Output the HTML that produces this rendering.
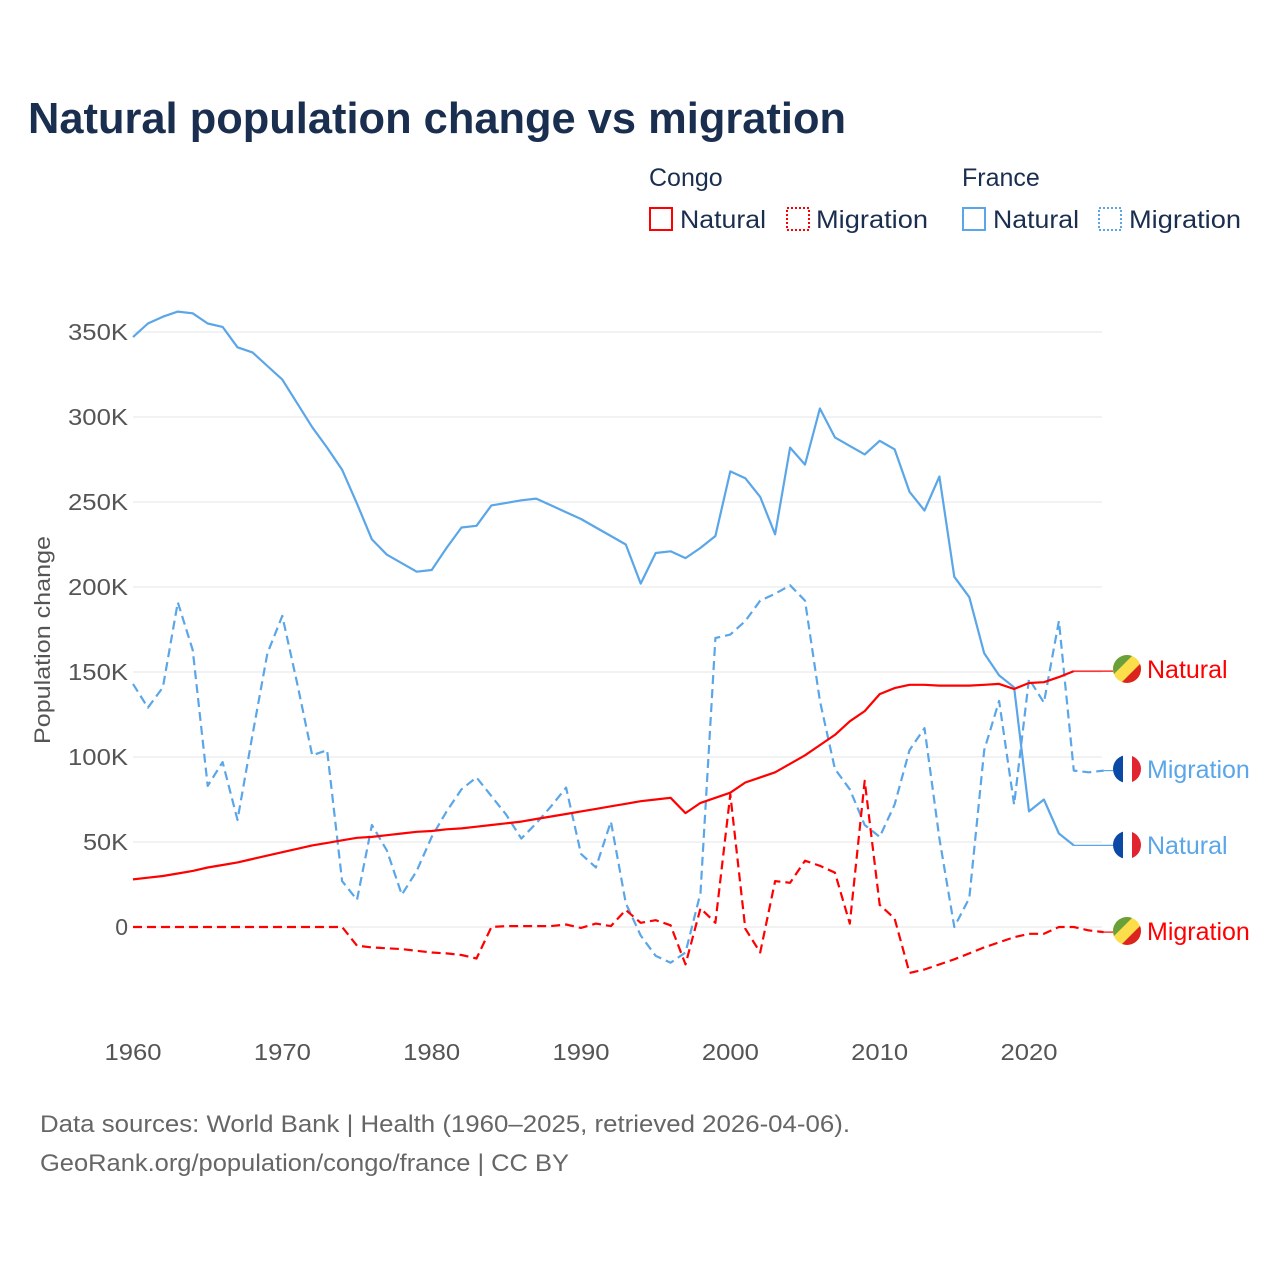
<!DOCTYPE html>
<html><head><meta charset="utf-8"><style>
body{margin:0;background:#fff;width:1280px;height:1280px;overflow:hidden;font-family:"Liberation Sans",sans-serif}
</style></head><body>
<svg id="chart" width="1280" height="1280" viewBox="0 0 1280 1280" xmlns="http://www.w3.org/2000/svg" font-family="Liberation Sans, sans-serif">
<text x="28" y="133" font-size="44" font-weight="bold" fill="#1a2e4f" textLength="818" lengthAdjust="spacingAndGlyphs">Natural population change vs migration</text>
<g font-size="25" fill="#1a2e4f">
<text x="649" y="186">Congo</text>
<text x="962" y="186">France</text>
<g><rect x="650" y="208" width="22" height="22" fill="none" stroke="#ff0000" stroke-width="2"/><text x="680" y="228" textLength="86" lengthAdjust="spacingAndGlyphs">Natural</text></g>
<g><rect x="787" y="208" width="22" height="22" fill="none" stroke="#ff0000" stroke-width="2" stroke-dasharray="2,2"/><text x="816" y="228" textLength="112" lengthAdjust="spacingAndGlyphs">Migration</text></g>
<g><rect x="963" y="208" width="22" height="22" fill="none" stroke="#5aa6e8" stroke-width="2"/><text x="993" y="228" textLength="86" lengthAdjust="spacingAndGlyphs">Natural</text></g>
<g><rect x="1099" y="208" width="22" height="22" fill="none" stroke="#5aa6e8" stroke-width="2" stroke-dasharray="2,2"/><text x="1129" y="228" textLength="112" lengthAdjust="spacingAndGlyphs">Migration</text></g>
</g>
<g id="grid"></g>
<g id="yticks" font-size="23" fill="#555" text-anchor="end"></g>
<g id="xticks" font-size="23" fill="#555" text-anchor="middle"></g>
<text transform="translate(50,640) rotate(-90)" font-size="22" fill="#555" text-anchor="middle" textLength="208" lengthAdjust="spacingAndGlyphs">Population change</text>
<g id="series"></g>
<g id="labels" font-size="25"></g>
<defs>
<clipPath id="c1"><circle cx="1127" cy="669" r="14"/></clipPath>
<clipPath id="c2"><circle cx="1127" cy="769" r="14"/></clipPath>
<clipPath id="c3"><circle cx="1127" cy="845" r="14"/></clipPath>
<clipPath id="c4"><circle cx="1127" cy="931" r="14"/></clipPath>
</defs>
<text x="40" y="1132" font-size="24" fill="#666" textLength="810" lengthAdjust="spacingAndGlyphs">Data sources: World Bank | Health (1960–2025, retrieved 2026-04-06).</text>
<text x="40" y="1171" font-size="24" fill="#666" textLength="529" lengthAdjust="spacingAndGlyphs">GeoRank.org/population/congo/france | CC BY</text>
</svg>
<script>
const yTicks=[0,50,100,150,200,250,300,350];
const yTickLabels=["0","50K","100K","150K","200K","250K","300K","350K"];
const xTicks=[1960,1970,1980,1990,2000,2010,2020];
const startYear=1960;
const franceNatural=[347,355,359,362,361,355,353,341,338,330,322,308,294,282,269,249,228,219,214,209,210,223,235,236,248,249.5,251,252,248,244,240,235,230,225,202,220,221,217,223,230,268,264,253,231,282,272,305,288,283,278,286,281,256,245,265,206,194,161,148,141,68,75,55,48];
const franceMigration=[143,129,141,191,163,83,97,63,113,161,183,143,101,104,27,16,60,45,19,33,53,68,81,88,77,66,52,61,71,82,43,35,62,14,-5,-17,-21,-15,20,170,172,180,192,196,201,192,133,93,81,60,53,72,104,117,52,0,17,104,133,72,146,132,180,92,91,92];
const congoNatural=[28,29,30,31.5,33,35,36.5,38,40,42,44,46,48,49.5,51,52.5,53,54,55,56,56.5,57.5,58,59,60,61,62,63.5,65,66.5,68,69.5,71,72.5,74,75,76,67,73,76,79,85,88,91,96,101,107,113,121,127,137,140.5,142.5,142.5,142,142,142,142.5,143,140,143.5,144,147,150.5];
const congoMigration=[0,0,0,0,0,0,0,0,0,0,0,0,0,0,0,-11,-12,-12.5,-13,-14,-15,-15.5,-16.5,-18.5,0,0.5,0.5,0.5,0.5,1.5,-0.5,2,0.5,10,2.5,4,1,-22,11,2.5,78,-1,-15,27,26,39,36,32,2,86,13,5,-27,-25,-22,-19,-15.5,-12,-9,-6,-4,-4,0,0,-2,-3];

const NS="http://www.w3.org/2000/svg";
const x=yr=>133+(yr-1960)*896/60;
const y=v=>927-v*85/50;
const mk=(t,a,p)=>{const e=document.createElementNS(NS,t);for(const k in a)e.setAttribute(k,a[k]);p.appendChild(e);return e;};
const grid=document.getElementById('grid'),yt=document.getElementById('yticks'),xt=document.getElementById('xticks');
yTicks.forEach((v,i)=>{
  const l=mk('line',{x1:133,x2:1102,y1:y(v),y2:y(v),stroke:'#e6e6e6','stroke-width':1},grid);
  
  
  const lbl=yTickLabels[i];
  const attrs={x:128,y:y(v)+8};
  if(lbl.length>3){attrs.textLength=60;attrs.lengthAdjust='spacingAndGlyphs';}
  else if(lbl.length===3){attrs.textLength=45;attrs.lengthAdjust='spacingAndGlyphs';}
  const t=mk('text',attrs,yt);t.textContent=lbl;
  
  
});
xTicks.forEach(v=>{
  const t=mk('text',{x:x(v),y:1060,textLength:57,lengthAdjust:'spacingAndGlyphs'},xt);t.textContent=v;
  
  
});
const S=document.getElementById('series');
function line(data,color,dash,name){
  const pts=data.map((v,i)=>x(startYear+i).toFixed(1)+','+y(v).toFixed(1)).join(' ');
  const p=mk('polyline',{points:pts,fill:'none',stroke:color,'stroke-width':2.2,'stroke-linejoin':'round'},S);
  if(dash)p.setAttribute('stroke-dasharray',dash);
  
  
  const last=data[data.length-1],ly=y(last),lx=x(startYear+data.length-1);
  if(lx<1110){const c=mk('line',{x1:lx,x2:1113,y1:ly,y2:ly,stroke:color,'stroke-width':1.2},S);
    
    }
}
line(franceNatural,'#5aa6e8',null,'line-france-natural');
line(franceMigration,'#5aa6e8','9,5','line-france-migration');
line(congoNatural,'#ff0000',null,'line-congo-natural');
line(congoMigration,'#ff0000','9,5','line-congo-migration');

const L=document.getElementById('labels');
function congoFlag(cy,clip){
  const g=mk('g',{'clip-path':'url(#'+clip+')'},L);
  
  
  mk('rect',{x:1113,y:cy-14,width:28,height:28,fill:'#fbde4a'},g);
  mk('polygon',{points:`1113,${cy-14} 1133,${cy-14} 1113,${cy+6}`,fill:'#6aa03a'},g);
  mk('polygon',{points:`1141,${cy+14} 1121,${cy+14} 1141,${cy-6}`,fill:'#dc241f'},g);
}
function franceFlag(cy,clip){
  const g=mk('g',{'clip-path':'url(#'+clip+')'},L);
  
  
  mk('rect',{x:1113,y:cy-14,width:10,height:28,fill:'#0a4aa6'},g);
  mk('rect',{x:1123,y:cy-14,width:9,height:28,fill:'#fff'},g);
  mk('rect',{x:1132,y:cy-14,width:10,height:28,fill:'#e1242f'},g);
}
function lab(txt,cy,color,name){const t=mk('text',{x:1147,y:cy+9,fill:color},L);t.textContent=txt;
  
  }
congoFlag(669,'c1');lab('Natural',669,'#ff0000','label-congo-natural');
franceFlag(769,'c2');lab('Migration',769,'#5aa6e8','label-france-migration');
franceFlag(845,'c3');lab('Natural',845,'#5aa6e8','label-france-natural');
congoFlag(931,'c4');lab('Migration',931,'#ff0000','label-congo-migration');
</script>
</body></html>
